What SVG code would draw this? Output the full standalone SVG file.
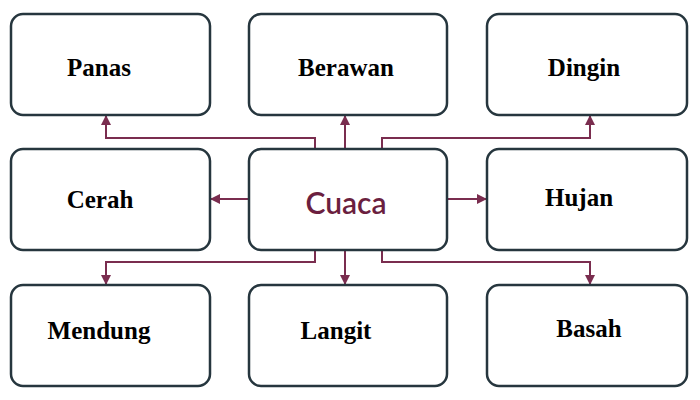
<svg xmlns="http://www.w3.org/2000/svg" width="700" height="400" viewBox="0 0 700 400">
<style>
.b{fill:#fff;stroke:#26363e;stroke-width:2.5}
.t{font-family:"Liberation Serif",serif;font-weight:bold;font-size:25px;fill:#000;text-anchor:middle}
.c{fill:none;stroke:#7a2d4f;stroke-width:2}
</style>
<defs><marker id="a" viewBox="0 0 10 10" refX="9" refY="5" markerWidth="5" markerHeight="5" orient="auto"><path d="M0,0L10,5L0,10z" fill="#7a2d4f"/></marker></defs>
<rect width="700" height="400" fill="#fff"/>
<g id="connectors">
<path class="c" marker-end="url(#a)" d="M315,149V138H106V116"/>
<path class="c" marker-end="url(#a)" d="M382,149V138H590V116"/>
<path class="c" marker-end="url(#a)" d="M315,250V262H106V284"/>
<path class="c" marker-end="url(#a)" d="M382,250V262H590V284"/>
<path class="c" marker-end="url(#a)" d="M345,149V116"/>
<path class="c" marker-end="url(#a)" d="M345,250V284"/>
<path class="c" marker-end="url(#a)" d="M249,199H211"/>
<path class="c" marker-end="url(#a)" d="M447,199H486"/>
</g>
<g id="panas"><rect class="b" x="11" y="14" width="199" height="101" rx="12"/><text class="t" x="99" y="76">Panas</text></g>
<g id="berawan"><rect class="b" x="249" y="14" width="198" height="101" rx="12"/><text class="t" x="346" y="76">Berawan</text></g>
<g id="dingin"><rect class="b" x="487" y="14" width="200" height="101" rx="12"/><text class="t" x="584" y="76">Dingin</text></g>
<g id="cerah"><rect class="b" x="11" y="149" width="199" height="101" rx="12"/><text class="t" x="100" y="208">Cerah</text></g>
<g id="cuaca"><rect class="b" x="249" y="149" width="198" height="101" rx="12"/><text x="346" y="214" font-family="Lato,sans-serif" font-weight="600" font-size="30" fill="#6b1f3f" text-anchor="middle">Cuaca</text></g>
<g id="hujan"><rect class="b" x="487" y="149" width="200" height="101" rx="12"/><text class="t" x="579" y="206">Hujan</text></g>
<g id="mendung"><rect class="b" x="11" y="285" width="199" height="101" rx="12"/><text class="t" x="99" y="339">Mendung</text></g>
<g id="langit"><rect class="b" x="249" y="285" width="198" height="101" rx="12"/><text class="t" x="336" y="339">Langit</text></g>
<g id="basah"><rect class="b" x="487" y="285" width="200" height="101" rx="12"/><text class="t" x="589" y="337">Basah</text></g>
</svg>
